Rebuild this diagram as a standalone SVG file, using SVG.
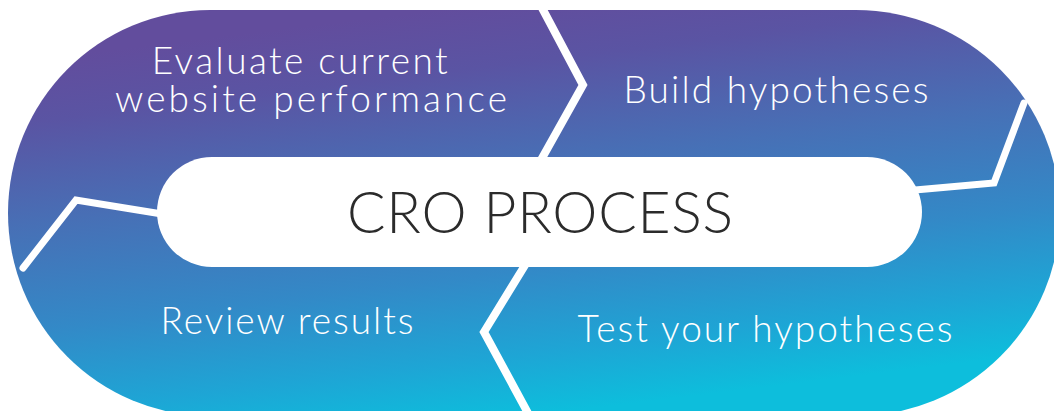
<svg xmlns="http://www.w3.org/2000/svg" width="1054" height="411" viewBox="0 0 1054 411">
  <defs>
    <linearGradient id="bandFill" gradientUnits="userSpaceOnUse" x1="520" y1="0" x2="570" y2="411">
      <stop offset="0" stop-color="#624D9D"/>
      <stop offset="0.15" stop-color="#5A54A3"/>
      <stop offset="0.4" stop-color="#4770B6"/>
      <stop offset="0.65" stop-color="#3389C7"/>
      <stop offset="0.85" stop-color="#1EA5D5"/>
      <stop offset="1" stop-color="#0DBEDC"/>
    </linearGradient>
    <style>
      .divider { fill: none; stroke: #FFFFFF; stroke-width: 8; stroke-linejoin: miter; stroke-linecap: butt; }
      .divider.round { stroke-linecap: round; stroke-width: 7; }
      .label { fill: #FFFFFF; font-family: Lato, "Open Sans", "Liberation Sans", sans-serif; font-weight: 300; font-size: 37px; text-anchor: middle; }
      .title { fill: #2B2B2B; font-family: Lato, "Open Sans", "Liberation Sans", sans-serif; font-weight: 300; font-size: 57px; text-anchor: middle; }
    </style>
  </defs>

  <!-- outer rounded band -->
  <g id="band">
    <path d="M 210,10 H 856 A 204,203 0 0 1 856,416 H 210 A 202,203 0 0 1 210,10 Z" fill="url(#bandFill)"/>
  </g>

  <!-- dividers between the four stages -->
  <g id="connectors">
    <polyline class="divider" points="541,6 583,85 541,160"/>
    <polyline class="divider" points="527,262 484,332 529,415"/>
    <polyline class="divider round" points="915,190 994,183 1024,103"/>
    <polyline class="divider round" points="162,214 76,200 23,268"/>
  </g>

  <g id="stage-evaluate">
    <text class="label">
      <tspan x="306" y="74" textLength="296" lengthAdjust="spacing">Evaluate current</tspan>
      <tspan x="311" y="112" textLength="392" lengthAdjust="spacing">website performance</tspan>
    </text>
  </g>

  <g id="stage-build">
    <text class="label" x="776" y="103" textLength="305" lengthAdjust="spacing">Build hypotheses</text>
  </g>

  <g id="stage-test">
    <text class="label" x="765" y="342" textLength="375" lengthAdjust="spacing">Test your hypotheses</text>
  </g>

  <g id="stage-review">
    <text class="label" x="287" y="334" textLength="253" lengthAdjust="spacing">Review results</text>
  </g>

  <g id="center">
    <rect x="157" y="157" width="765" height="110" rx="55" ry="55" fill="#FFFFFF"/>
    <text class="title" x="540" y="233" textLength="386" lengthAdjust="spacing">CRO PROCESS</text>
  </g>
</svg>
